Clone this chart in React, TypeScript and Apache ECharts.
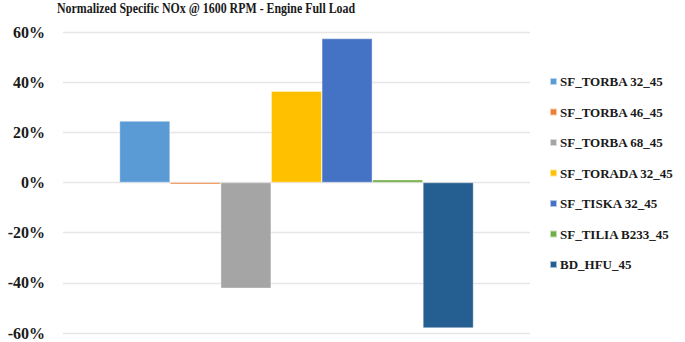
import React, { useEffect, useRef } from "react";
import * as echarts from "echarts";

const titleText = "Normalized Specific NOx @ 1600 RPM - Engine Full Load";
const categories = ["Full Load"];
const seriesNames = [
  "SF_TORBA 32_45",
  "SF_TORBA 46_45",
  "SF_TORBA 68_45",
  "SF_TORADA 32_45",
  "SF_TISKA 32_45",
  "SF_TILIA B233_45",
  "BD_HFU_45",
];
const seriesValues = [24.5, -0.7, -42.2, 36.4, 57.4, 1.1, -58];
const seriesColors = ["#5B9BD5", "#ED7D31", "#A5A5A5", "#FFC000", "#4472C4", "#70AD47", "#255E91"];
const yTicks = { min: -60, max: 60, interval: 20 };

const FONT = "'Liberation Serif', 'Times New Roman', serif";

export default function App() {
  const ref = useRef<HTMLDivElement>(null);
  useEffect(() => {
    document.body.style.margin = "0";
    const chart = echarts.init(ref.current!, null, { renderer: "svg" });
    chart.setOption({
      animation: false,
      graphic: [
        {
          type: "text",
          x: 57,
          y: 1,
          scaleX: 0.85,
          style: {
            text: titleText,
            fontFamily: FONT,
            fontWeight: "bold",
            fontSize: 14,
            fill: "#1a1a1a",
            textVerticalAlign: "top",
          },
        },
      ],
      legend: {
        orient: "vertical",
        left: 544,
        top: 70,
        itemWidth: 7,
        itemHeight: 7,
        itemGap: 17.5,
        icon: "rect",
        data: seriesNames,
        textStyle: { fontFamily: FONT, fontWeight: "bold", fontSize: 13, color: "#1a1a1a", padding: [0, 0, 0, -2] },
      },
      grid: { left: 63, right: 155, top: 32, bottom: 9, containLabel: false },
      xAxis: {
        type: "category",
        data: categories,
        axisLine: { show: false },
        axisTick: { show: false },
        axisLabel: { show: false },
      },
      yAxis: {
        type: "value",
        min: yTicks.min,
        max: yTicks.max,
        interval: yTicks.interval,
        axisLine: { show: false },
        axisTick: { show: false },
        splitLine: { lineStyle: { color: "#e6e6e6", width: 1.3 } },
        axisLabel: {
          formatter: (v: number) => `${v}%`,
          fontFamily: FONT,
          fontWeight: "bold",
          fontSize: 16,
          color: "#1a1a1a",
          margin: 18,
        },
      },
      series: seriesNames.map((name, i) => ({
        name,
        type: "bar",
        data: [seriesValues[i]],
        barGap: "0%",
        barCategoryGap: "24.2%",
        itemStyle: { color: seriesColors[i], borderColor: "rgba(255,255,255,0.6)", borderWidth: 0.6 },
      })),
    });
    return () => chart.dispose();
  }, []);
  return <div ref={ref} style={{ width: 685, height: 342 }} />;
}
